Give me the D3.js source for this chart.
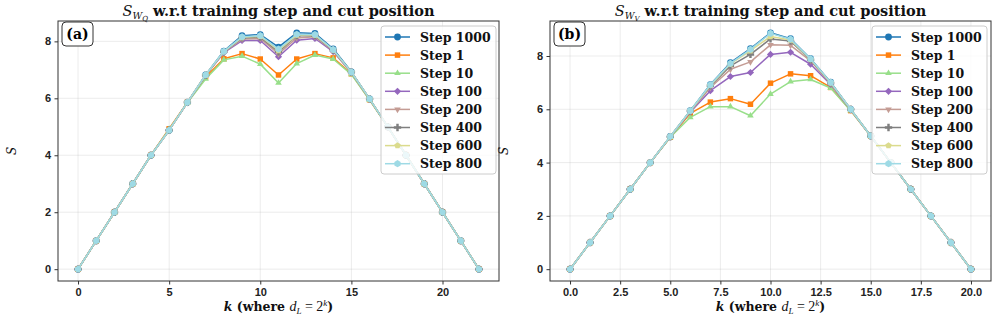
<!DOCTYPE html>
<html>
<head>
<meta charset="utf-8">
<script src="https://cdn.jsdelivr.net/npm/d3@7"></script>
<style>
  body { margin: 0; background: #fff; }
  svg { display: block; font-family: 'DejaVu Serif', serif; }
  .tick text { font-weight: bold; font-size: 11px; fill: #222; }
</style>
</head>
<body>
<svg id="chart" width="997" height="319"></svg>
<script>

const stepNames = ['Step 1000', 'Step 1', 'Step 10', 'Step 100', 'Step 200', 'Step 400', 'Step 600', 'Step 800'];
const stepColors = ['#1f77b4', '#ff7f0e', '#98df8a', '#9467bd', '#c49c94', '#7f7f7f', '#dbdb8d', '#9edae5'];
const stepMarkers = ['circle', 'square', 'triangle', 'diamond', 'triangleDown', 'plus', 'pentagon', 'hexagon'];

// panel (a): W_Q
const kQ = [0, 1, 2, 3, 4, 5, 6, 7, 8, 9, 10, 11, 12, 13, 14, 15, 16, 17, 18, 19, 20, 21, 22];
const sQ1000 = [0, 1, 2, 3, 4, 4.88, 5.86, 6.82, 7.66, 8.2, 8.24, 7.8, 8.3, 8.28, 7.74, 6.93, 5.98, 5, 4, 3, 2, 1, 0];
const sQ1 = [0, 1, 2, 3, 4, 4.93, 5.86, 6.75, 7.39, 7.57, 7.38, 6.82, 7.38, 7.57, 7.42, 6.86, 5.95, 5, 4, 3, 2, 1, 0];
const sQ10 = [0, 1, 2, 3, 4, 4.92, 5.84, 6.68, 7.35, 7.48, 7.2, 6.54, 7.22, 7.52, 7.38, 6.84, 5.94, 5, 4, 3, 2, 1, 0];
const sQ100 = [0, 1, 2, 3, 4, 4.88, 5.85, 6.8, 7.6, 8.03, 8.03, 7.46, 8.04, 8.1, 7.64, 6.9, 5.97, 5, 4, 3, 2, 1, 0];
const sQ200 = [0, 1, 2, 3, 4, 4.88, 5.85, 6.81, 7.62, 8.08, 8.1, 7.56, 8.12, 8.16, 7.67, 6.91, 5.97, 5, 4, 3, 2, 1, 0];
const sQ400 = [0, 1, 2, 3, 4, 4.88, 5.86, 6.81, 7.63, 8.12, 8.15, 7.63, 8.2, 8.2, 7.69, 6.92, 5.98, 5, 4, 3, 2, 1, 0];
const sQ600 = [0, 1, 2, 3, 4, 4.88, 5.86, 6.82, 7.64, 8.14, 8.18, 7.68, 8.22, 8.22, 7.7, 6.92, 5.98, 5, 4, 3, 2, 1, 0];
const sQ800 = [0, 1, 2, 3, 4, 4.88, 5.86, 6.82, 7.65, 8.16, 8.2, 7.73, 8.25, 8.24, 7.71, 6.92, 5.98, 5, 4, 3, 2, 1, 0];

// panel (b): W_V
const kV = [0, 1, 2, 3, 4, 5, 6, 7, 8, 9, 10, 11, 12, 13, 14, 15, 16, 17, 18, 19, 20];
const sV1000 = [0, 1, 2, 3, 4, 4.98, 5.95, 6.93, 7.75, 8.28, 8.87, 8.65, 7.9, 7.02, 6.0, 5.0, 4, 3, 2, 1, 0];
const sV1 = [0, 1, 2, 3, 4, 4.95, 5.85, 6.27, 6.4, 6.19, 6.98, 7.33, 7.26, 6.82, 5.95, 5, 4, 3, 2, 1, 0];
const sV10 = [0, 1, 2, 3, 4, 4.95, 5.7, 6.1, 6.1, 5.76, 6.57, 7.04, 7.12, 6.8, 5.95, 5, 4, 3, 2, 1, 0];
const sV100 = [0, 1, 2, 3, 4, 4.97, 5.9, 6.7, 7.23, 7.38, 8.06, 8.14, 7.69, 6.93, 5.98, 5, 4, 3, 2, 1, 0];
const sV200 = [0, 1, 2, 3, 4, 4.97, 5.92, 6.82, 7.5, 7.78, 8.42, 8.4, 7.82, 6.96, 5.99, 5, 4, 3, 2, 1, 0];
const sV400 = [0, 1, 2, 3, 4, 4.97, 5.94, 6.88, 7.63, 8.06, 8.64, 8.56, 7.86, 6.99, 6.0, 5, 4, 3, 2, 1, 0];
const sV600 = [0, 1, 2, 3, 4, 4.98, 5.94, 6.9, 7.7, 8.2, 8.73, 8.6, 7.88, 7.0, 6.0, 5, 4, 3, 2, 1, 0];
const sV800 = [0, 1, 2, 3, 4, 4.98, 5.95, 6.92, 7.72, 8.25, 8.85, 8.63, 7.89, 7.01, 6.0, 5, 4, 3, 2, 1, 0];

const xTicksQ = [0, 5, 10, 15, 20];
const xTicksV = [0, 2.5, 5, 7.5, 10, 12.5, 15, 17.5, 20];
const yTicks = [0, 2, 4, 6, 8];


function polygon(n, r, rot) {
  const pts = d3.range(n).map(i => {
    const a = rot + i * 2 * Math.PI / n;
    return [r * Math.sin(a), -r * Math.cos(a)];
  });
  return 'M' + pts.map(p => p.join(',')).join('L') + 'Z';
}

function markerPath(kind) {
  switch (kind) {
    case 'circle': return d3.symbol(d3.symbolCircle, 36)();
    case 'square': return d3.symbol(d3.symbolSquare, 30)();
    case 'triangle': return polygon(3, 3.8, 0);
    case 'triangleDown': return polygon(3, 3.8, Math.PI);
    case 'diamond': return polygon(4, 3.6, 0);
    case 'plus': return d3.symbol(d3.symbolCross, 30)();
    case 'pentagon': return polygon(5, 3.4, 0);
    case 'hexagon': return polygon(6, 3.6, 0);
  }
}

// matplotlib style 5% margins
function padded(lo, hi) {
  const m = (hi - lo) * 0.05;
  return [lo - m, hi + m];
}


function drawPanel(svg, p) {
  const box = p.box;
  const g = svg.append('g')
      .attr('transform', `translate(${box.left},${box.top})`);
  const w = box.width, h = box.height;

  const x = d3.scaleLinear()
      .domain(padded(d3.min(p.k), d3.max(p.k)))
      .range([0, w]);
  const yMax = d3.max(p.series, s => d3.max(s));
  const y = d3.scaleLinear()
      .domain(padded(0, yMax))
      .range([h, 0]);

  // grid
  const grid = g.append('g').attr('class', 'grid')
      .attr('stroke', '#b0b0b0')
      .attr('stroke-opacity', 0.3)
      .attr('stroke-width', 0.8);
  grid.selectAll('.gx').data(p.xTicks).enter()
    .append('line')
      .attr('x1', d => x(d)).attr('x2', d => x(d))
      .attr('y1', 0).attr('y2', h);
  grid.selectAll('.gy').data(yTicks).enter()
    .append('line')
      .attr('y1', d => y(d)).attr('y2', d => y(d))
      .attr('x1', 0).attr('x2', w);

  // lines + markers, in legend order
  const line = d3.line()
      .x((d, i) => x(p.k[i]))
      .y(d => y(d));
  p.series.forEach((vals, si) => {
    const sg = g.append('g').attr('class', 'series');
    sg.append('path')
        .attr('d', line(vals))
        .attr('fill', 'none')
        .attr('stroke', stepColors[si])
        .attr('stroke-width', 1.5)
        .attr('stroke-linejoin', 'round');
    sg.selectAll('.pt').data(vals).enter()
      .append('path')
        .attr('class', 'pt')
        .attr('transform', (d, i) => `translate(${x(p.k[i])},${y(d)})`)
        .attr('d', markerPath(stepMarkers[si]))
        .attr('fill', stepColors[si]);
  });

  // axes
  const xAxis = d3.axisBottom(x)
      .tickValues(p.xTicks)
      .tickFormat(p.xFormat)
      .tickSize(3.5).tickPadding(3.5);
  const yAxis = d3.axisLeft(y)
      .tickValues(yTicks)
      .tickFormat(d3.format('d'))
      .tickSize(3.5).tickPadding(3.5);
  g.append('g')
      .attr('transform', `translate(0,${h})`)
      .call(xAxis)
      .call(a => a.select('.domain').remove())
      .call(a => a.selectAll('.tick line').attr('stroke', '#333'));
  g.append('g')
      .call(yAxis)
      .call(a => a.select('.domain').remove())
      .call(a => a.selectAll('.tick line').attr('stroke', '#333'));
  g.selectAll('.tick text').attr('font-family', null).attr('font-size', null);

  // spines
  g.append('rect')
      .attr('width', w).attr('height', h)
      .attr('fill', 'none')
      .attr('stroke', '#333')
      .attr('stroke-width', 1);

  // panel tag
  const tag = g.append('g').attr('transform', 'translate(4,1)');
  tag.append('rect')
      .attr('width', 31).attr('height', 24)
      .attr('rx', 4)
      .attr('fill', '#fff')
      .attr('stroke', '#333')
      .attr('stroke-width', 1);
  tag.append('text')
      .attr('x', 15.5).attr('y', 17)
      .attr('text-anchor', 'middle')
      .attr('font-weight', 'bold')
      .attr('font-size', 14)
      .text(p.tag);

  // legend
  const lg = g.append('g')
      .attr('transform', `translate(${p.legendX},5)`);
  lg.append('rect')
      .attr('width', 115).attr('height', 148)
      .attr('rx', 3)
      .attr('fill', '#fff').attr('fill-opacity', 0.8)
      .attr('stroke', '#cccccc').attr('stroke-width', 1);
  const rows = lg.selectAll('.entry').data(stepNames).enter()
    .append('g')
      .attr('class', 'entry')
      .attr('transform', (d, i) => `translate(0,${11 + i * 18.1})`);
  rows.append('line')
      .attr('x1', 4).attr('x2', 29)
      .attr('stroke', (d, i) => stepColors[i])
      .attr('stroke-width', 1.5);
  rows.append('path')
      .attr('transform', 'translate(16.5,0)')
      .attr('d', (d, i) => markerPath(stepMarkers[i]))
      .attr('fill', (d, i) => stepColors[i]);
  rows.append('text')
      .attr('x', 39).attr('y', 4.5)
      .attr('font-weight', 'bold')
      .attr('font-size', 12.5)
      .attr('fill', '#111')
      .text(d => d);

  // title
  const title = svg.append('text')
      .attr('x', box.left + w / 2).attr('y', 16)
      .attr('text-anchor', 'middle')
      .attr('font-size', 14.5)
      .attr('font-weight', 'bold')
      .attr('fill', '#111');
  title.append('tspan').attr('font-style', 'italic').attr('font-weight', 'normal').text('S');
  title.append('tspan').attr('font-style', 'italic').attr('font-weight', 'normal')
      .attr('font-size', 9.5).attr('dy', 3).text('W');
  title.append('tspan').attr('font-style', 'italic').attr('font-weight', 'normal')
      .attr('font-size', 7).attr('dy', 2).text(p.sub);
  title.append('tspan').attr('dy', -5).text(' w.r.t training step and cut position');

  // axis labels
  svg.append('text')
      .attr('transform', `translate(${box.left - 42},${box.top + h / 2}) rotate(-90)`)
      .attr('text-anchor', 'middle')
      .attr('font-size', 12)
      .attr('font-style', 'italic')
      .attr('fill', '#111')
      .text('S');
  const xl = svg.append('text')
      .attr('x', box.left + w / 2).attr('y', box.top + h + 30)
      .attr('text-anchor', 'middle')
      .attr('font-size', 12.5)
      .attr('font-weight', 'bold')
      .attr('fill', '#111');
  xl.append('tspan').attr('font-style', 'italic').text('k');
  xl.append('tspan').text(' (where ');
  xl.append('tspan').attr('font-style', 'italic').attr('font-weight', 'normal')
      .attr('font-family', 'Liberation Serif').attr('font-size', 14).text('d');
  xl.append('tspan').attr('font-style', 'italic').attr('font-weight', 'normal')
      .attr('font-family', 'Liberation Serif').attr('font-size', 9).attr('dy', 3).text('L');
  xl.append('tspan').attr('font-weight', 'normal').attr('font-family', 'Liberation Serif')
      .attr('font-size', 14).attr('dy', -3).text(' = 2');
  xl.append('tspan').attr('font-style', 'italic').attr('font-weight', 'normal')
      .attr('font-family', 'Liberation Serif').attr('font-size', 9).attr('dy', -5).text('k');
  xl.append('tspan').attr('dy', 5).text(')');
}


const svg = d3.select('#chart');

drawPanel(svg, {
  box: {left: 58, top: 21, width: 441, height: 260},
  k: kQ,
  series: [sQ1000, sQ1, sQ10, sQ100, sQ200, sQ400, sQ600, sQ800],
  xTicks: xTicksQ,
  xFormat: d3.format('d'),
  tag: '(a)',
  sub: 'Q',
  legendX: 323
});

drawPanel(svg, {
  box: {left: 550, top: 21, width: 441, height: 260},
  k: kV,
  series: [sV1000, sV1, sV10, sV100, sV200, sV400, sV600, sV800],
  xTicks: xTicksV,
  xFormat: d3.format('.1f'),
  tag: '(b)',
  sub: 'V',
  legendX: 322
});

</script>
</body>
</html>
